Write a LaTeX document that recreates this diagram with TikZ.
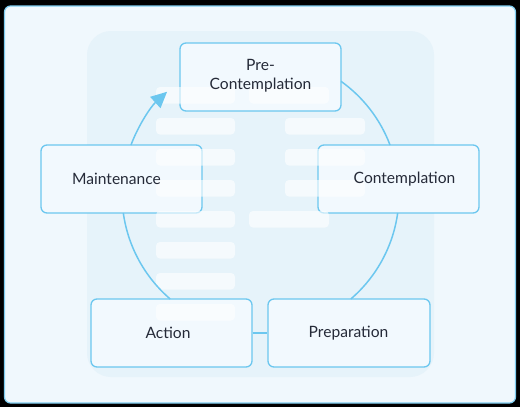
\documentclass[tikz,border=0pt]{standalone}
\usepackage{fontspec}
\setmainfont{Lato}
\usetikzlibrary{arrows.meta}
\definecolor{frame}{HTML}{F0F8FD}
\definecolor{frameline}{HTML}{7FCDF0}
\definecolor{panel}{HTML}{E6F3FA}
\definecolor{boxfill}{HTML}{F2F9FE}
\definecolor{boxline}{HTML}{6CC7EF}
\definecolor{txt}{HTML}{252A38}
\definecolor{arcc}{HTML}{6CC7EF}
\begin{document}
\begin{tikzpicture}[x=1pt,y=-1pt,
  stage/.style={draw=boxline, line width=1.3pt, fill=boxfill, rounded corners=6pt,
    minimum width=161pt, minimum height=68pt, inner sep=0pt},
  bar/.style={fill=white, fill opacity=0.6, rounded corners=4pt},
  lbl/.style={text=txt, font=\fontsize{15.6}{19}\selectfont, align=center, inner sep=0pt},
  cyc/.style={draw=arcc, line width=1.5pt}]
\fill[black] (0,0) rectangle (520,407);
\useasboundingbox (0,0) rectangle (520,407);
\draw[fill=frame, draw=frameline, line width=1.2pt, rounded corners=6pt] (4.5,6) rectangle (515.5,403);
\fill[panel, rounded corners=24pt] (87,31) rectangle (434,377);
% stage boxes
\node[stage] (pre) at (260.5,77) {};
\node[stage] (maint) at (121.5,179) {};
\node[stage] (cont) at (398.5,179) {};
\node[stage] (act) at (171.5,333) {};
\node[stage, minimum width=162pt] (prep) at (349,333) {};
% placeholder bars
\foreach \k in {0,...,7}
  \fill[bar] (156,87+31*\k) rectangle (235,103.5+31*\k);
\fill[bar] (249,87) rectangle (329,103.5);
\fill[bar] (249,211) rectangle (329,227.5);
\foreach \k in {1,2,3}
  \fill[bar] (285,87+31*\k) rectangle (365,103.5+31*\k);
% cycle connectors
\coordinate (C) at (260.5,194);
\draw[cyc] (C) ++(-54.46:138.5) arc[start angle=-54.46, end angle=-20.72, radius=138.5];
\draw[cyc] (C) ++(7.89:138.5) arc[start angle=7.89, end angle=49.3, radius=138.5];
\draw[cyc] (act.east) -- (prep.west);
\draw[cyc] (C) ++(130.7:138.5) arc[start angle=130.7, end angle=172.11, radius=138.5];
\draw[cyc, -{Triangle[length=16pt,width=15pt]}] (C) ++(200.72:138.5) arc[start angle=200.72, end angle=227.6, radius=138.5];
% labels
\node[lbl] (tpre) at (260.5,76) {Pre-\\Contemplation};
\node[lbl] (tmaint) at (116.5,179) {Maintenance};
\node[lbl] (tcont) at (404.5,179) {Contemplation};
\node[lbl] (tact) at (168,333) {Action};
\node[lbl] (tprep) at (348.5,333) {Preparation};
\end{tikzpicture}
\end{document}
